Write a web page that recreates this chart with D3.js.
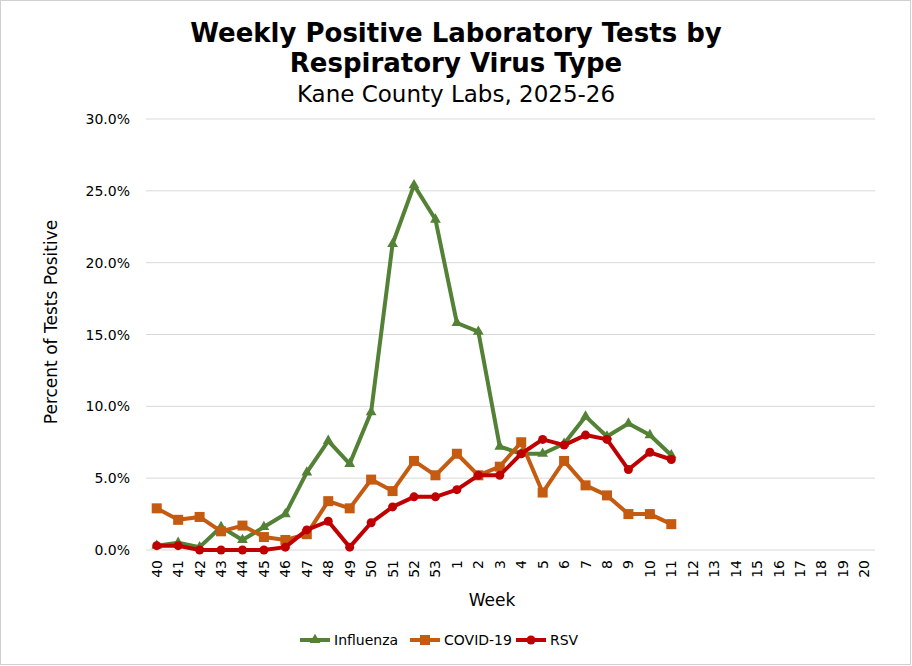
<!DOCTYPE html>
<html><head><meta charset="utf-8">
<script src="https://cdn.jsdelivr.net/npm/d3@7"></script>
<style>body{margin:0;background:#fff}svg{font-family:"DejaVu Sans",Verdana,sans-serif}</style>
</head><body><div id="chart"></div>
<script>
const weeks = ["40","41","42","43","44","45","46","47","48","49","50","51","52","53","1","2","3","4","5","6","7","8","9","10","11","12","13","14","15","16","17","18","19","20"];
const influenza = [0.3,0.5,0.2,1.6,0.7,1.6,2.5,5.4,7.6,6.0,9.6,21.3,25.4,23.0,15.8,15.2,7.2,6.7,6.7,7.4,9.3,7.9,8.8,8.0,6.6];
const covid = [2.9,2.1,2.3,1.3,1.7,0.9,0.7,1.1,3.4,2.9,4.9,4.1,6.2,5.2,6.7,5.2,5.8,7.5,4.0,6.2,4.5,3.8,2.5,2.5,1.8];
const rsv = [0.3,0.3,0.0,0.0,0.0,0.0,0.2,1.4,2.0,0.2,1.9,3.0,3.7,3.7,4.2,5.2,5.2,6.7,7.7,7.3,8.0,7.7,5.6,6.8,6.3];
const yTicks = [0,5,10,15,20,25,30];

const W = 912, H = 666, L = 146, R = 875, T = 119, B = 550;
const svg = d3.select("#chart").append("svg").attr("width", W).attr("height", H);
svg.append("rect").attr("x",0.5).attr("y",0.5).attr("width",W-2).attr("height",H-2).attr("fill","#fff").attr("stroke","#d0d0d0");

const x = d3.scaleBand().domain(weeks).range([L, R]);
const y = d3.scaleLinear().domain([0, 30]).range([B, T]);
const px = d => x(d) + x.bandwidth() / 2;

svg.append("g").selectAll("line").data(yTicks).join("line")
  .attr("x1", L).attr("x2", R).attr("y1", d => y(d)).attr("y2", d => y(d))
  .attr("stroke", "#d9d9d9").attr("stroke-width", 1);
svg.append("g").selectAll("text").data(yTicks).join("text")
  .attr("x", L - 16).attr("y", d => y(d) + 5).attr("text-anchor", "end")
  .attr("font-size", 14).attr("fill", "#000").text(d => d.toFixed(1) + "%");

svg.append("g").selectAll("text").data(weeks).join("text")
  .attr("transform", d => `translate(${px(d) + 5},${B + 10}) rotate(-90)`)
  .attr("text-anchor", "end").attr("font-size", 14).text(d => d);

const series = [
  {name: "Influenza", values: influenza, color: "#538135", shape: "tri"},
  {name: "COVID-19", values: covid, color: "#C55A11", shape: "sq"},
  {name: "RSV", values: rsv, color: "#C00000", shape: "circ"}
];
const line = d3.line().x((d, i) => px(weeks[i])).y(d => y(d));
function marker(g, shape, cx, cy, color) {
  if (shape === "tri") g.append("path").attr("d", d3.symbol(d3.symbolTriangle, 50)()).attr("transform", `translate(${cx},${cy})`).attr("fill", color);
  else if (shape === "sq") g.append("rect").attr("x", cx - 5).attr("y", cy - 5).attr("width", 10).attr("height", 10).attr("fill", color);
  else g.append("circle").attr("cx", cx).attr("cy", cy).attr("r", 4.5).attr("fill", color);
}
series.forEach(s => {
  svg.append("path").datum(s.values).attr("d", line).attr("fill", "none")
    .attr("stroke", s.color).attr("stroke-width", 4).attr("stroke-linejoin", "round");
  const g = svg.append("g");
  s.values.forEach((v, i) => marker(g, s.shape, px(weeks[i]), y(v), s.color));
});

svg.append("text").attr("x", 456).attr("y", 42).attr("text-anchor", "middle").attr("font-size", 26).attr("font-weight", "bold").text("Weekly Positive Laboratory Tests by");
svg.append("text").attr("x", 456).attr("y", 72).attr("text-anchor", "middle").attr("font-size", 26).attr("font-weight", "bold").text("Respiratory Virus Type");
svg.append("text").attr("x", 456).attr("y", 102).attr("text-anchor", "middle").attr("font-size", 23).text("Kane County Labs, 2025-26");
svg.append("text").attr("x", 492).attr("y", 606).attr("text-anchor", "middle").attr("font-size", 17).text("Week");
svg.append("text").attr("transform", "translate(57,322) rotate(-90)").attr("text-anchor", "middle").attr("font-size", 17).text("Percent of Tests Positive");

const legX = [300, 410, 516];
series.forEach((s, i) => {
  const g = svg.append("g");
  g.append("line").attr("x1", legX[i]).attr("x2", legX[i] + 30).attr("y1", 640).attr("y2", 640).attr("stroke", s.color).attr("stroke-width", 4);
  marker(g, s.shape, legX[i] + 15, 640, s.color);
  g.append("text").attr("x", legX[i] + 34).attr("y", 645).attr("font-size", 14).text(s.name);
});
</script></body></html>
